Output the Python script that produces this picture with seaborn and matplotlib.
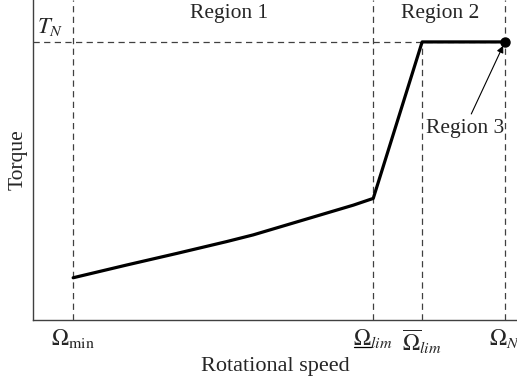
import matplotlib
matplotlib.use("Agg")
import matplotlib.pyplot as plt
from matplotlib.lines import Line2D
import seaborn as sns
import pandas as pd

# data (normalised units)
speed = [0.083, 0.194, 0.297, 0.400, 0.455, 0.524, 0.593, 0.662, 0.703, 0.804, 0.975]
torque = [0.132, 0.172, 0.208, 0.245, 0.266, 0.297, 0.328, 0.359, 0.380, 0.869, 0.869]
tick_pos = [0.083, 0.703, 0.804, 0.975]
tick_labels = [r"$\Omega_{\min}$", r"$\Omega_{lim}$", r"$\overline{\Omega}_{lim}$", r"$\Omega_N$"]
t_nominal = 0.869
region_labels = ["Region 1", "Region 2", "Region 3"]

sns.set_theme(style="white")
plt.rcParams["font.family"] = ["Liberation Serif", "DejaVu Serif"]
plt.rcParams["mathtext.fontset"] = "stix"

FS = 15.5
W, H = 517, 383
fig = plt.figure(figsize=(W / 100, H / 100), dpi=100)
ax = fig.add_axes([33 / W, 63 / H, 484 / W, 320 / H])

df = pd.DataFrame({"speed": speed, "torque": torque})
sns.lineplot(data=df, x="speed", y="torque", sort=False, estimator=None,
             color="black", linewidth=2.3, ax=ax, zorder=3)
ax.plot([speed[-1]], [torque[-1]], "o", color="black", markersize=6.5, zorder=4)

dash = dict(color="0.25", linewidth=0.9, linestyle=(0, (5, 3.5)), zorder=1)
for i, xp in enumerate(tick_pos):
    ax.axvline(xp, ymax=(t_nominal if i == 2 else 1.0), **dash)
ax.plot([0, tick_pos[-1]], [t_nominal, t_nominal], **dash)

ax.set_xlim(0, 1)
ax.set_ylim(0, 1)
ax.set_xticks(tick_pos)
ax.set_xticklabels(tick_labels, fontsize=FS + 1)
ax.set_yticks([])
ax.tick_params(axis="x", length=0, pad=5)
ax.set_xlabel("Rotational speed", fontsize=FS + 0.5, labelpad=1)
ax.set_ylabel("Torque", fontsize=FS, labelpad=4)

for s in ["top", "right"]:
    ax.spines[s].set_visible(False)
for s in ["left", "bottom"]:
    ax.spines[s].set_color("0.25")
    ax.spines[s].set_linewidth(1.0)

ax.text(0.008, t_nominal + 0.012, r"$T_N$", fontsize=FS + 1, ha="left", va="bottom")
ax.text(0.405, 0.958, region_labels[0], fontsize=FS, ha="center", va="center")
ax.text(0.841, 0.958, region_labels[1], fontsize=FS, ha="center", va="center")
ax.annotate(region_labels[2], xy=(speed[-1], torque[-1]), xytext=(0.892, 0.6),
            fontsize=FS, ha="center", va="center",
            arrowprops=dict(arrowstyle="-|>", color="black", lw=0.8,
                            shrinkA=1, shrinkB=3, mutation_scale=10))

# underline under the Omega of the second tick label (mathtext lacks \underline)
fig.canvas.draw()
renderer = fig.canvas.get_renderer()
lab = ax.get_xticklabels()[1]
bb = lab.get_window_extent(renderer)
tmp = fig.text(0, 0, r"$\Omega$", fontsize=FS + 1)
wbb = tmp.get_window_extent(renderer)
tmp.remove()
x0 = bb.x0 + 1
x1 = bb.x0 + wbb.width - 1
yl = bb.y0 + 3
fig.add_artist(Line2D([x0 / W, x1 / W], [yl / H, yl / H], transform=fig.transFigure,
                      color="black", linewidth=0.9))

fig.savefig("out.png", dpi=100)
